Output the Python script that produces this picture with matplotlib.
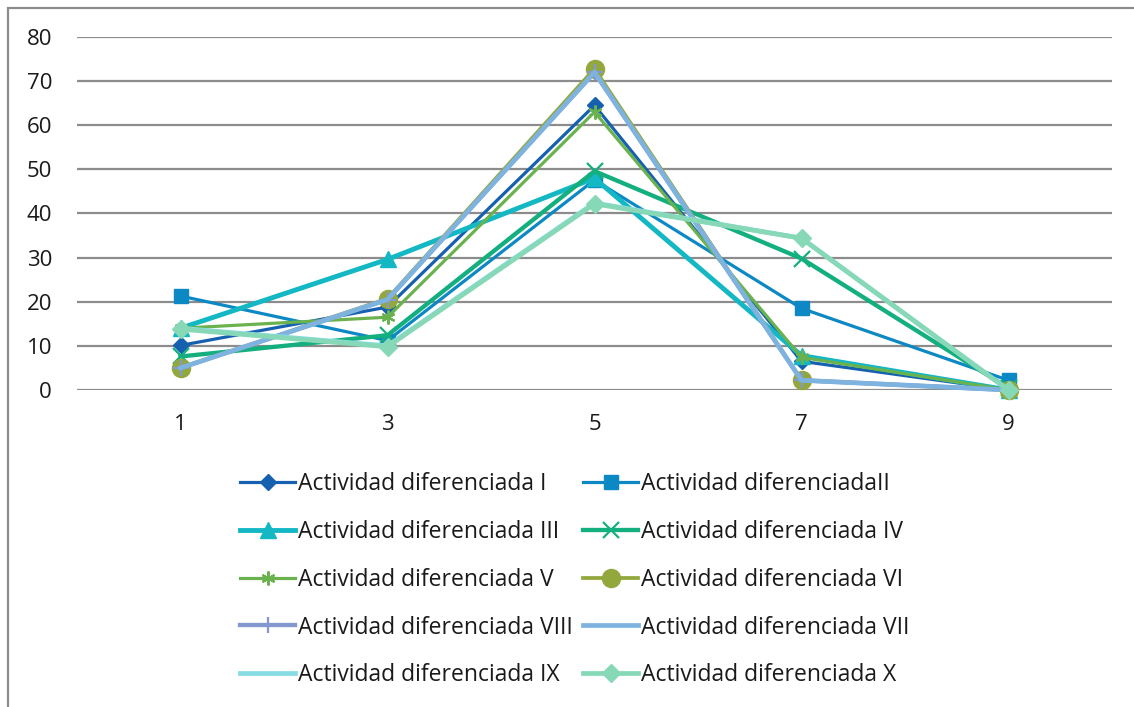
import matplotlib
matplotlib.use("Agg")
import matplotlib.pyplot as plt
from matplotlib.patches import Rectangle

categories = ["1", "3", "5", "7", "9"]

act_I = [10.1, 18.8, 64.5, 6.5, 0.0]
act_II = [21.3, 11.2, 47.6, 18.5, 2.2]
act_III = [14.0, 29.6, 48.0, 7.8, 0.0]
act_IV = [7.6, 12.4, 49.6, 29.8, 0.4]
act_V = [14.0, 16.5, 63.0, 7.4, 0.0]
act_VI = [5.0, 20.7, 72.8, 2.2, 0.0]
act_VIII = [5.0, 20.5, 72.0, 2.2, 0.0]
act_VII = [5.0, 20.5, 72.0, 2.2, 0.0]
act_IX = [14.0, 10.0, 42.4, 34.4, 0.0]
act_X = [13.8, 9.8, 42.2, 34.4, 0.0]

labels = ["Actividad diferenciada I", "Actividad diferenciadaII",
          "Actividad diferenciada III", "Actividad diferenciada IV",
          "Actividad diferenciada V", "Actividad diferenciada VI",
          "Actividad diferenciada VIII", "Actividad diferenciada VII",
          "Actividad diferenciada IX", "Actividad diferenciada X"]
series = [act_I, act_II, act_III, act_IV, act_V, act_VI, act_VIII, act_VII, act_IX, act_X]
colors = ["#1660B0", "#0C88C4", "#14B8C4", "#13AF7F", "#6AB24E",
          "#93A83C", "#8298CF", "#7FB3DF", "#86DCE3", "#86D8B6"]
markers = ["D", "s", "^", "x", (6, 2, 0), "o", "+", None, None, "D"]
msizes = [8, 9.5, 11, 11, 10, 13, 11, 0, 0, 9]
lwidths = [2.3, 2.3, 3.5, 3.1, 2.3, 2.7, 3.1, 3.4, 3.4, 3.4]

plt.rcParams['font.family'] = ['Open Sans', 'DejaVu Sans']

fig = plt.figure(figsize=(11.34, 7.07), dpi=100)
W, H = 1134, 707
ax = fig.add_axes([77 / W, 1 - 390 / H, (1112 - 77) / W, (390 - 37) / H])

x = list(range(len(categories)))
handles = []
for s, lab, c, m, ms, lw in zip(series, labels, colors, markers, msizes, lwidths):
    mew = 1.6 if m in ("x", "+", (6, 2, 0)) else 1
    h, = ax.plot(x, s, color=c, lw=lw, marker=m, markersize=ms, label=lab,
                 markeredgecolor=c, markerfacecolor=c, markeredgewidth=mew,
                 solid_joinstyle='miter', clip_on=False)
    handles.append(h)

ax.set_xlim(-0.5, len(categories) - 0.5)
ax.set_ylim(0, 80)
ax.set_yticks(range(0, 81, 10))
ax.set_xticks(x)
ax.set_xticklabels(categories)
ax.yaxis.grid(True, color="#8C8C8C", lw=1.6)
ax.set_axisbelow(True)
for sp in ax.spines.values():
    sp.set_visible(False)
ax.tick_params(axis='both', length=0, labelsize=16, colors="#1A1A1A")
ax.tick_params(axis='y', pad=18)
ax.tick_params(axis='x', pad=17)

# chart border (left and top visible)
fig.add_artist(Rectangle((8 / W, -0.1), 1.2, 1 - 8 / H + 0.1, transform=fig.transFigure,
                         fill=False, edgecolor="#8C8C8C", lw=1.6))

order = [0, 2, 4, 6, 8, 1, 3, 5, 7, 9]
leg = fig.legend([handles[i] for i in order], [labels[i] for i in order],
                 ncol=2, loc='upper left', bbox_to_anchor=(240 / W, 1 - 472 / H),
                 frameon=False, fontsize=16.5, handlelength=2.4, handletextpad=0.13,
                 columnspacing=0.45, labelspacing=1.04, borderaxespad=0, borderpad=0,
                 labelcolor="#1A1A1A")

fig.savefig("out.png", dpi=100)
